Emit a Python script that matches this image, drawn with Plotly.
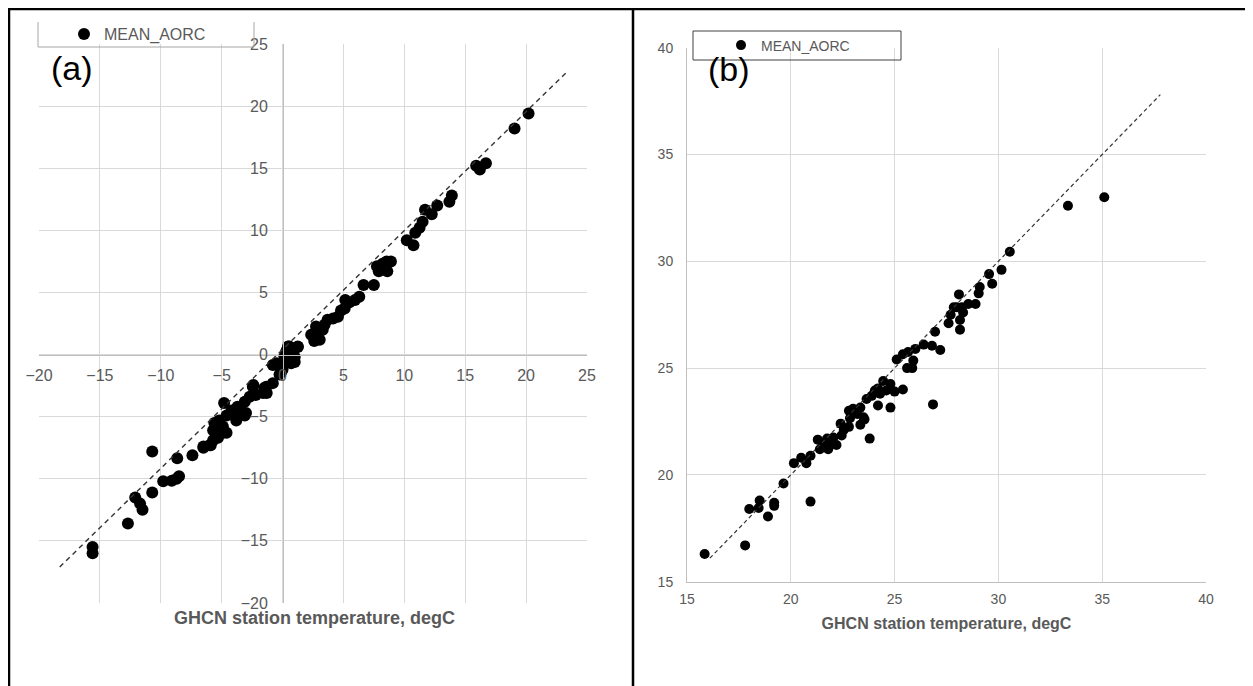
import plotly.graph_objects as go

# ---------------- data ----------------
# Panel (a): GHCN station temperature (x) vs MEAN_AORC (y), degC
a_x = [-15.6, -15.6, -12.7, -12.1, -11.7, -11.5, -10.7, -10.7, -9.8, -9.1, -8.7, -8.5,
       -8.65, -7.4, -6.5, -5.9, -5.3, -5.7, -5.6, -4.6, -4.9, -4.8, -4.6, -4.2, -3.8,
       -3.5, -3.1, -3.0, -2.7, -2.4, -2.2, -1.5, -1.3, -0.8, -0.25, -0.8, 0.0, -0.1,
       0.45, 0.85, 1.0, 0.3, -4.1, -3.7, -2.44, -1.34, -1.6, -3.1, -3.8, -5.2, -5.4,
       -5.7, -4.9, -6.5, -6.0, 0.0, 0.3, 0.6, 1.0, 1.25, 0.7,
       20.2, 19.05, 15.9, 16.2, 16.7, 13.9, 13.7, 12.7, 12.25, 11.7, 11.5, 11.25, 10.9,
       10.2, 10.75, 8.9, 8.55, 8.2, 8.6, 7.9, 7.75, 7.5, 6.65, 6.3, 5.95, 5.5, 5.15,
       5.1, 4.8, 4.55, 4.15, 3.7, 3.45, 3.3, 2.75, 2.35, 2.6, 3.05, 2.75, 1.25, 0.55,
       0.85, 0.85, 0.15, -0.5]
a_y = [-15.5, -16.0, -13.6, -11.5, -12.0, -12.5, -11.1, -7.8, -10.2, -10.15, -10.0, -9.8,
       -8.35, -8.1, -7.5, -7.3, -6.7, -6.1, -5.5, -6.3, -5.8, -3.9, -4.9, -4.5, -5.1,
       -4.3, -3.8, -4.7, -3.4, -2.45, -3.25, -2.7, -3.1, -2.3, -1.6, -0.85, -0.7, -1.4,
       0.65, 0.0, -0.6, 0.25, -4.6, -4.2, -2.6, -2.6, -3.1, -4.9, -5.3, -5.3, -6.1,
       -6.9, -6.3, -7.4, -7.3, -1.2, -0.6, 0.5, -0.2, 0.65, -0.7,
       19.4, 18.2, 15.2, 14.9, 15.4, 12.8, 12.3, 12.0, 11.3, 11.65, 10.7, 10.2, 9.8,
       9.2, 8.8, 7.5, 7.5, 7.3, 6.7, 6.7, 7.1, 5.6, 5.6, 4.65, 4.4, 4.2, 4.4,
       3.7, 3.55, 3.05, 2.9, 2.8, 2.4, 2.0, 2.25, 1.6, 1.1, 1.2, 1.7, 0.6, 0.65,
       0.1, -0.55, -0.15, -0.7]
a_ref_x = [-18.3, 23.4]
a_ref_y = [-17.1, 22.8]

# Panel (b)
b_x = [15.85, 17.8, 18.0, 18.5, 18.45, 18.9, 19.2, 19.2, 20.95, 19.65, 20.15, 20.5, 20.75,
       20.95, 21.4, 21.8, 21.3, 21.55, 21.75, 21.9, 22.05, 22.2, 22.45, 22.55, 22.8, 22.4,
       22.85, 23.2, 22.8, 23.0, 23.35, 23.35, 23.55, 23.8, 23.65, 24.2, 23.9, 24.05, 24.3,
       24.6, 24.8, 24.45, 24.2, 24.8, 25.0, 25.4, 25.1, 25.6, 25.85, 25.9, 25.4, 25.65,
       26.0, 26.4, 26.8, 27.2, 26.95, 26.85, 27.6, 27.7, 28.15, 28.15, 28.3, 28.0, 28.55,
       28.1, 28.9, 29.05, 29.1, 29.7, 29.55, 30.15, 30.55, 33.35, 35.1, 27.85, 28.25, 23.5]
b_y = [16.3, 16.7, 18.4, 18.8, 18.45, 18.05, 18.7, 18.55, 18.75, 19.6, 20.55, 20.8, 20.55,
       20.9, 21.2, 21.2, 21.65, 21.45, 21.7, 21.4, 21.75, 21.4, 21.85, 22.1, 22.25, 22.4,
       22.65, 22.85, 23.0, 23.1, 23.15, 22.35, 22.6, 21.7, 23.55, 23.25, 23.7, 23.95, 23.8,
       23.95, 24.25, 24.4, 24.05, 23.15, 23.9, 24.0, 25.4, 25.0, 25.0, 25.35, 25.65, 25.75,
       25.9, 26.1, 26.05, 25.85, 26.7, 23.3, 27.1, 27.5, 27.25, 26.8, 27.6, 27.85, 28.0,
       28.45, 28.0, 28.5, 28.8, 28.95, 29.4, 29.6, 30.45, 32.6, 33.0, 27.85, 27.85, 22.7]
b_ref_x = [16.1, 37.8]
b_ref_y = [16.1, 37.8]

a_ticks = [-20, -15, -10, -5, 0, 5, 10, 15, 20, 25]
b_ticks = [15, 20, 25, 30, 35, 40]
series_name = "MEAN_AORC"
x_title = "GHCN station temperature, degC"

# ---------------- layout helpers ----------------
# The page body has an 8 px margin, so the figure is made 8 px smaller and all
# positions (measured in page pixels) are shifted by that offset.
OFF = 8
W, H = 1253 - OFF, 686 - OFF
def px(v):
    return (v - OFF) / W
def py(v):
    return 1 - (v - OFF) / H

FONT = "Liberation Sans, Arial, sans-serif"
GRID = "#d9d9d9"
AXL = "#bfbfbf"
TXT = "#595959"

fig = go.Figure()
fig.add_trace(go.Scatter(x=a_x, y=a_y, mode="markers", name=series_name,
                         marker=dict(color="black", size=12),
                         xaxis="x", yaxis="y", legend="legend"))
fig.add_trace(go.Scatter(x=a_ref_x, y=a_ref_y, mode="lines", showlegend=False,
                         line=dict(color="#333333", width=1.4, dash="5px,4px"),
                         xaxis="x", yaxis="y", hoverinfo="skip"))
fig.add_trace(go.Scatter(x=b_x, y=b_y, mode="markers", name=series_name,
                         marker=dict(color="black", size=10),
                         xaxis="x2", yaxis="y2", legend="legend2"))
fig.add_trace(go.Scatter(x=b_ref_x, y=b_ref_y, mode="lines", showlegend=False,
                         line=dict(color="#333333", width=1.2, dash="4px,3px"),
                         xaxis="x2", yaxis="y2", hoverinfo="skip"))

common = dict(showgrid=True, gridcolor=GRID, gridwidth=1, zeroline=False,
              showline=True, linecolor=AXL, linewidth=1, ticks="", automargin=False)

fig.update_layout(
    width=W, height=H, autosize=False,
    margin=dict(l=0, r=0, t=0, b=0, pad=0, autoexpand=False),
    paper_bgcolor="white", plot_bgcolor="white",
    font=dict(family=FONT, color=TXT),
    xaxis=dict(domain=[px(39), px(587)], range=[-20, 25], tickvals=a_ticks,
               anchor="free", position=py(354.6), tickfont=dict(size=16, color=TXT),
               ticklabelstandoff=6, **common),
    yaxis=dict(domain=[py(603), py(44)], range=[-20, 25], tickvals=a_ticks,
               anchor="free", position=px(283), tickfont=dict(size=16, color=TXT),
               ticklabelstandoff=12, **common),
    xaxis2=dict(domain=[px(687), px(1206)], range=[15, 40], tickvals=b_ticks,
                anchor="y2", tickfont=dict(size=14, color=TXT),
                ticklabelstandoff=4,
                title=dict(text=x_title, font=dict(size=16, color=TXT, weight="bold"),
                           standoff=12), **common),
    yaxis2=dict(domain=[py(581.7), py(47.7)], range=[15, 40], tickvals=b_ticks,
                anchor="x2", tickfont=dict(size=14, color=TXT),
                ticklabelstandoff=10, **common),
    legend=dict(x=px(64), y=py(34), xanchor="left", yanchor="middle",
                bgcolor="rgba(0,0,0,0)", borderwidth=0,
                font=dict(size=16, color=TXT, family=FONT)),
    legend2=dict(x=px(721), y=py(45.5), xanchor="left", yanchor="middle",
                 bgcolor="rgba(0,0,0,0)", borderwidth=0,
                 font=dict(size=14, color=TXT, family=FONT)),
    annotations=[
        dict(text="(a)", x=px(72), y=py(68), xref="paper", yref="paper",
             showarrow=False, xanchor="center", yanchor="middle",
             font=dict(size=34, color="black", family=FONT)),
        dict(text="(b)", x=px(729), y=py(69), xref="paper", yref="paper",
             showarrow=False, xanchor="center", yanchor="middle",
             font=dict(size=34, color="black", family=FONT)),
        dict(text=x_title, x=px(314), y=py(618), xref="paper", yref="paper",
             showarrow=False, xanchor="center", yanchor="middle",
             font=dict(size=18, color=TXT, family=FONT, weight="bold")),
    ],
    shapes=[
        # page frame
        dict(type="line", xref="paper", yref="paper", x0=px(8), x1=1, y0=py(9), y1=py(9),
             line=dict(color="black", width=2.5)),
        dict(type="line", xref="paper", yref="paper", x0=px(9), x1=px(9), y0=0, y1=py(8),
             line=dict(color="black", width=2.5)),
        dict(type="line", xref="paper", yref="paper", x0=px(633), x1=px(633), y0=0, y1=py(8),
             line=dict(color="black", width=2.5)),
        # legend (a) partial frame
        dict(type="line", xref="paper", yref="paper", x0=px(38), x1=px(38), y0=py(22), y1=py(47),
             line=dict(color="#a6a6a6", width=1)),
        dict(type="line", xref="paper", yref="paper", x0=px(38), x1=px(254), y0=py(47), y1=py(47),
             line=dict(color="#a6a6a6", width=1)),
        dict(type="line", xref="paper", yref="paper", x0=px(254), x1=px(254), y0=py(22), y1=py(47),
             line=dict(color="#a6a6a6", width=1)),
        # legend (b) frame
        dict(type="rect", xref="paper", yref="paper", x0=px(693), x1=px(901), y0=py(60), y1=py(31),
             line=dict(color="#404040", width=1)),
    ],
)

fig.write_html("out.html")
